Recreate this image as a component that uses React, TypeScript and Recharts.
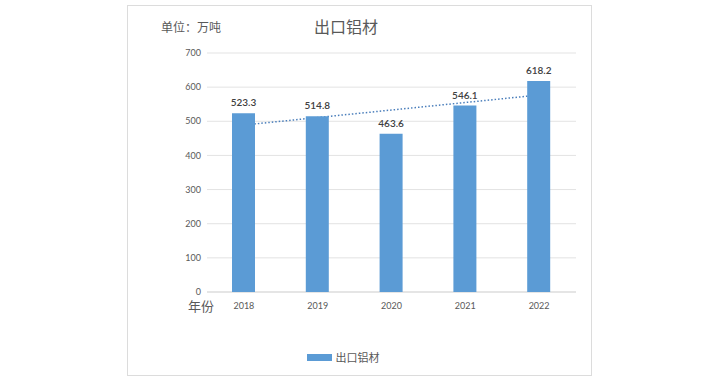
import { ComposedChart, Bar, Line, XAxis, YAxis, CartesianGrid, Legend, LabelList } from 'recharts'

const years = ['2018', '2019', '2020', '2021', '2022']
const exports = [523.3, 514.8, 463.6, 546.1, 618.2]
// linear trend
const trend = [489, 511, 533, 555, 577]
const yTicks = [0, 100, 200, 300, 400, 500, 600, 700]

const data = years.map((year, i) => ({ year, value: exports[i], trend: trend[i] }))

const FONT = "Lato, 'Noto Sans CJK SC', sans-serif"
const W = 463
const H = 369
const MARGIN = { top: 47, right: 15, left: 0, bottom: 8 }

const LegendBox = ({ hidden }: { hidden?: boolean }) => (
  <div style={{ display: 'flex', justifyContent: 'center', alignItems: 'center', height: 20, paddingRight: 18, visibility: hidden ? 'hidden' : 'visible' }}>
    <span style={{ display: 'inline-block', width: 25, height: 7, background: '#5b9bd5', marginRight: 4 }} />
    <span style={{ fontSize: 11, color: '#595959' }}>出口铝材</span>
  </div>
)

// the two charts share one layout; the line sits under the bars
const Axes = ({ ghost }: { ghost?: boolean }) => [
  <XAxis
    key="x"
    dataKey="year"
    tick={ghost ? false : { fontSize: 9, fill: '#595959' }}
    axisLine={ghost ? false : { stroke: '#d9d9d9' }}
    tickLine={false}
    tickMargin={5}
    height={55}
  />,
  <YAxis
    key="y"
    domain={[0, 700]}
    ticks={yTicks}
    tick={ghost ? false : { fontSize: 9, fill: '#595959' }}
    axisLine={false}
    tickLine={false}
    tickSize={0}
    tickMargin={6}
    width={79}
  />,
  <Legend key="l" verticalAlign="bottom" content={() => <LegendBox hidden={!ghost} />} />,
]

export default function App() {
  return (
    <div style={{ position: 'absolute', left: 0, top: 0, width: 703, height: 381, background: '#fff', fontFamily: FONT }}>
      <div style={{ position: 'absolute', left: 127, top: 5, width: W, height: H, border: '1px solid #dcdcdc' }}>
        <div style={{ position: 'absolute', left: 33, top: 12, fontSize: 12, color: '#595959' }}>单位：万吨</div>
        <div style={{ position: 'absolute', left: 0, width: 436, top: 8, textAlign: 'center', fontSize: 16, color: '#595959' }}>出口铝材</div>
        <div style={{ position: 'absolute', left: 60, top: 290, fontSize: 13, color: '#595959' }}>年份</div>
        <div style={{ position: 'absolute', left: 0, top: 0 }}>
          <ComposedChart width={W} height={H} data={data} margin={MARGIN}>
            <CartesianGrid vertical={false} stroke="#e3e3e3" />
            {Axes({})}
            <Bar dataKey="value" fill="none" barSize={23} legendType="none" isAnimationActive={false} />
            <Line
              dataKey="trend"
              stroke="#4a7ebb"
              strokeWidth={1.5}
              strokeDasharray="1.5 2"
              dot={false}
              isAnimationActive={false}
            />
          </ComposedChart>
        </div>
        <div style={{ position: 'absolute', left: 0, top: 0 }}>
          <ComposedChart width={W} height={H} data={data} margin={MARGIN}>
            {Axes({ ghost: true })}
            <Bar dataKey="value" name="出口铝材" fill="#5b9bd5" barSize={23} isAnimationActive={false}>
              <LabelList
                dataKey="value"
                position="top"
                offset={7}
                style={{ fontSize: 10, fill: '#404040', fontWeight: 600 }}
                formatter={(v: number) => v.toFixed(1)}
              />
            </Bar>
          </ComposedChart>
        </div>
      </div>
    </div>
  )
}
